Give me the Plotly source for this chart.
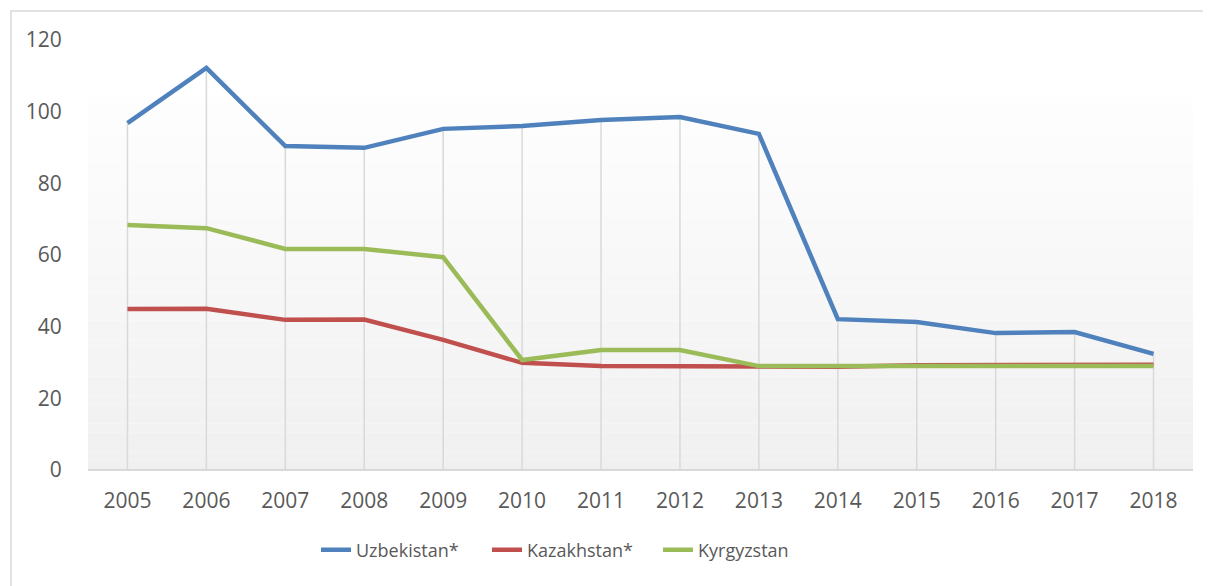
import plotly.graph_objects as go

years = ["2005", "2006", "2007", "2008", "2009", "2010", "2011", "2012", "2013", "2014", "2015", "2016", "2017", "2018"]
uzbekistan = [96.8, 112.2, 90.4, 89.9, 95.2, 96.0, 97.7, 98.5, 93.8, 42.1, 41.3, 38.2, 38.5, 32.4]
kazakhstan = [44.9, 45.0, 41.9, 42.0, 36.3, 29.9, 29.0, 29.0, 28.8, 28.8, 29.2, 29.2, 29.2, 29.4]
kyrgyzstan = [68.4, 67.5, 61.7, 61.7, 59.4, 30.7, 33.5, 33.5, 29.0, 29.0, 29.0, 29.0, 29.0, 29.0]

OFF = 8  # page body margin
W, H = 1211 - OFF, 586 - OFF
# target plot area in screen pixels: x 88..1193, y 40..470
L, R, T, B = 88 - OFF, 1211 - 1193, 40 - OFF, (586 - 470)
pw, ph = 1193 - 88, 470 - 40

def px_x(x):
    return (x - 88) / pw

def px_y(y):
    return (470 - y) / ph

fig = go.Figure()

# drop lines from the highest point to the axis
dx, dy = [], []
for i, yr in enumerate(years):
    top = max(uzbekistan[i], kazakhstan[i], kyrgyzstan[i])
    dx += [yr, yr, None]
    dy += [0, top, None]
fig.add_trace(go.Scatter(x=dx, y=dy, mode="lines", line=dict(color="#D9D9D9", width=1.5),
                         showlegend=False, hoverinfo="skip"))

series = [("Uzbekistan*", uzbekistan, "#4F81BD"),
          ("Kazakhstan*", kazakhstan, "#C0504D"),
          ("Kyrgyzstan", kyrgyzstan, "#9BBB59")]
for name, vals, col in series:
    fig.add_trace(go.Scatter(x=years, y=vals, mode="lines", name=name,
                             line=dict(color=col, width=4.5)))

shapes = []
g_top = px_y(97)
n = 40
for k in range(n):
    y0 = g_top * k / n
    y1 = g_top * (k + 1) / n
    t = (k + 0.5) / n
    v = int(round(240 + (254 - 240) * t))
    shapes.append(dict(type="rect", xref="paper", yref="paper", x0=0, x1=1, y0=y0, y1=y1,
                       fillcolor=f"rgb({v},{v},{v})", line=dict(width=0), layer="below"))
shapes.append(dict(type="rect", xref="paper", yref="paper",
                   x0=px_x(11), x1=px_x(1216), y0=px_y(591), y1=px_y(11),
                   line=dict(color="#D9D9D9", width=1.5), fillcolor="rgba(0,0,0,0)", layer="below"))

fig.update_layout(
    width=W, height=H,
    margin=dict(l=L, r=R, t=T, b=B, autoexpand=False),
    paper_bgcolor="white", plot_bgcolor="rgba(0,0,0,0)",
    font=dict(family="Open Sans, Liberation Sans, sans-serif", color="#595959"),
    shapes=shapes,
    showlegend=True,
    legend=dict(orientation="h", x=px_x(316), xanchor="left", y=px_y(550), yanchor="middle",
                font=dict(size=18, color="#595959"), entrywidth=126, entrywidthmode="pixels",
                bgcolor="rgba(0,0,0,0)"),
    xaxis=dict(type="category", range=[-0.5, 13.5], showgrid=False, zeroline=False,
               showline=False, ticks="outside", ticklen=12, tickcolor="rgba(0,0,0,0)",
               tickfont=dict(size=21, color="#595959")),
    yaxis=dict(range=[0, 120], dtick=20, showgrid=False, zeroline=True, zerolinecolor="#D9D9D9",
               zerolinewidth=1.5, showline=False, ticks="outside", ticklen=21,
               tickcolor="rgba(0,0,0,0)", tickfont=dict(size=21, color="#595959")),
)

fig.write_html("out.html")
